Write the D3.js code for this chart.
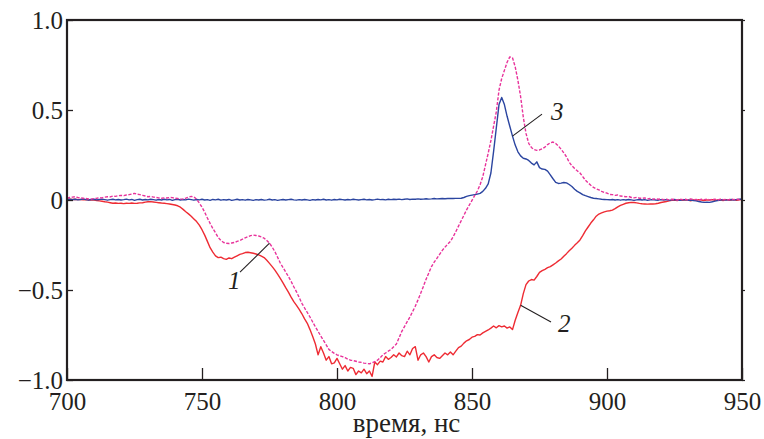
<!DOCTYPE html>
<html>
<head>
<meta charset="utf-8">
<script src="https://cdn.jsdelivr.net/npm/d3@7"></script>
<style>
  html, body { margin: 0; padding: 0; background: #fff; }
  svg { display: block; }
  text { font-family: "Liberation Serif", "Times New Roman", serif; fill: #231f20; }
</style>
</head>
<body>
<svg id="chart" width="764" height="439"></svg>
<script>
// Time grid, ns (one sample per nanosecond)
const tStart = 700, tEnd = 950;
const times = d3.range(tStart, tEnd + 1);

// Curve 1 (dashed)
const curve1 = [
  0.010, 0.014, 0.016, 0.018, 0.014, 0.012, 0.010, 0.008, 0.006, 0.005,
  0.008, 0.010, 0.013, 0.012, 0.016, 0.018, 0.017, 0.022, 0.020, 0.024,
  0.026, 0.024, 0.028, 0.030, 0.033, 0.037, 0.032, 0.030, 0.026, 0.022,
  0.018, 0.020, 0.016, 0.014, 0.012, 0.010, 0.012, 0.011, 0.014, 0.013,
  0.010, 0.008, 0.006, 0.005, 0.010, 0.016, 0.020, 0.018, 0.004, -0.017,
  -0.040, -0.068, -0.100, -0.130, -0.158, -0.182, -0.208, -0.225, -0.236, -0.240,
  -0.242, -0.239, -0.236, -0.230, -0.225, -0.218, -0.210, -0.204, -0.198, -0.195,
  -0.197, -0.200, -0.205, -0.212, -0.225, -0.240, -0.262, -0.287, -0.318, -0.350,
  -0.375, -0.400, -0.425, -0.452, -0.482, -0.510, -0.542, -0.574, -0.600, -0.625,
  -0.650, -0.678, -0.705, -0.730, -0.756, -0.780, -0.805, -0.830, -0.842, -0.852,
  -0.860, -0.866, -0.870, -0.876, -0.884, -0.890, -0.892, -0.896, -0.900, -0.902,
  -0.906, -0.908, -0.910, -0.905, -0.898, -0.890, -0.876, -0.860, -0.850, -0.840,
  -0.830, -0.815, -0.800, -0.765, -0.730, -0.703, -0.676, -0.650, -0.620, -0.590,
  -0.555, -0.518, -0.480, -0.440, -0.405, -0.370, -0.345, -0.324, -0.302, -0.280,
  -0.262, -0.245, -0.230, -0.205, -0.176, -0.145, -0.115, -0.085, -0.055, -0.028,
  -0.002, 0.025, 0.050, 0.085, 0.130, 0.195, 0.260, 0.330, 0.410, 0.490,
  0.610, 0.675, 0.720, 0.765, 0.795, 0.790, 0.740, 0.665, 0.575, 0.460,
  0.370, 0.315, 0.292, 0.280, 0.276, 0.278, 0.284, 0.294, 0.308, 0.318,
  0.322, 0.314, 0.300, 0.282, 0.262, 0.240, 0.210, 0.190, 0.175, 0.162,
  0.150, 0.130, 0.110, 0.095, 0.082, 0.070, 0.062, 0.056, 0.048, 0.042,
  0.038, 0.031, 0.030, 0.026, 0.028, 0.022, 0.020, 0.018, 0.020, 0.014,
  0.012, 0.015, 0.010, 0.009, 0.012, 0.006, 0.008, 0.004, 0.007, 0.004,
  0.006, 0.002, 0.005, 0.001, 0.004, 0.003, 0.000, 0.005, 0.002, 0.004,
  0.001, 0.006, 0.002, 0.003, 0.000, 0.004, 0.002, 0.005, 0.001, 0.003,
  0.004, 0.000, 0.005, 0.002, 0.003, 0.001, 0.006, 0.002, 0.004, 0.003,
  0.008
];

// Curve 2 (solid red)
const curve2 = [
  0.005, 0.004, 0.003, 0.004, 0.002, 0.003, 0.001, 0.002, 0.000, 0.001,
  -0.001, -0.003, -0.005, -0.007, -0.010, -0.012, -0.015, -0.018, -0.017, -0.019,
  -0.018, -0.020, -0.018, -0.019, -0.017, -0.019, -0.018, -0.016, -0.015, -0.012,
  -0.010, -0.009, -0.011, -0.013, -0.015, -0.017, -0.018, -0.020, -0.022, -0.025,
  -0.028, -0.032, -0.040, -0.052, -0.065, -0.077, -0.090, -0.105, -0.120, -0.140,
  -0.165, -0.195, -0.230, -0.265, -0.290, -0.310, -0.320, -0.318, -0.326, -0.330,
  -0.322, -0.326, -0.318, -0.310, -0.302, -0.298, -0.292, -0.290, -0.293, -0.296,
  -0.300, -0.305, -0.312, -0.320, -0.335, -0.352, -0.370, -0.390, -0.412, -0.435,
  -0.460, -0.487, -0.512, -0.540, -0.565, -0.585, -0.608, -0.632, -0.660, -0.685,
  -0.720, -0.758, -0.800, -0.860, -0.815, -0.850, -0.890, -0.870, -0.910, -0.905,
  -0.880, -0.910, -0.940, -0.920, -0.950, -0.930, -0.935, -0.970, -0.950, -0.960,
  -0.940, -0.965, -0.950, -0.980, -0.900, -0.915, -0.895, -0.900, -0.870, -0.885,
  -0.875, -0.860, -0.872, -0.850, -0.865, -0.870, -0.840, -0.860, -0.825, -0.815,
  -0.890, -0.860, -0.850, -0.870, -0.900, -0.870, -0.860, -0.875, -0.880, -0.865,
  -0.850, -0.860, -0.845, -0.860, -0.840, -0.820, -0.812, -0.795, -0.782, -0.775,
  -0.762, -0.758, -0.748, -0.750, -0.738, -0.730, -0.722, -0.712, -0.700, -0.710,
  -0.698, -0.705, -0.700, -0.712, -0.705, -0.720, -0.668, -0.625, -0.585, -0.520,
  -0.470, -0.450, -0.442, -0.445, -0.425, -0.402, -0.392, -0.385, -0.376, -0.370,
  -0.360, -0.350, -0.338, -0.328, -0.312, -0.298, -0.282, -0.268, -0.252, -0.238,
  -0.222, -0.198, -0.172, -0.150, -0.128, -0.110, -0.090, -0.078, -0.072, -0.066,
  -0.062, -0.060, -0.056, -0.048, -0.038, -0.030, -0.024, -0.018, -0.015, -0.013,
  -0.014, -0.016, -0.019, -0.021, -0.022, -0.023, -0.022, -0.022, -0.021, -0.018,
  -0.014, -0.011, -0.008, -0.005, -0.002, 0.000, -0.003, 0.002, -0.002, 0.001,
  0.000, -0.004, 0.001, -0.002, 0.002, 0.000, -0.003, 0.001, -0.001, 0.002,
  -0.002, 0.000, 0.001, -0.003, 0.002, -0.001, 0.000, 0.002, -0.002, 0.001,
  0.003
];

// Curve 3 (solid blue)
const curve3 = [
  0.003, 0.005, 0.002, 0.004, 0.001, 0.003, 0.006, 0.002, 0.000, 0.003,
  0.004, 0.001, 0.003, 0.005, 0.002, -0.001, 0.002, 0.004, 0.001, 0.003,
  0.000, 0.002, 0.005, 0.001, 0.003, -0.002, 0.002, 0.004, 0.000, 0.003,
  0.001, 0.004, 0.002, -0.001, 0.003, 0.000, 0.004, 0.001, 0.003, -0.002,
  0.002, 0.004, 0.000, 0.003, 0.001, 0.005, 0.002, -0.001, 0.003, 0.001,
  0.004, 0.000, 0.002, -0.002, 0.003, 0.001, 0.004, -0.001, 0.002, 0.000,
  0.003, -0.002, 0.001, 0.004, 0.000, 0.002, -0.001, 0.003, 0.001, -0.002,
  0.002, 0.000, 0.003, -0.001, 0.001, 0.004, 0.000, 0.002, -0.002, 0.001,
  0.003, 0.000, 0.002, 0.004, 0.001, -0.001, 0.002, 0.000, 0.003, 0.001,
  -0.002, 0.002, 0.000, 0.003, 0.001, 0.004, 0.000, 0.002, -0.001, 0.003,
  0.001, 0.004, 0.002, 0.000, 0.003, 0.001, 0.004, 0.002, 0.000, 0.002,
  0.004, 0.001, 0.003, 0.000, 0.002, 0.005, 0.002, 0.003, 0.001, 0.004,
  0.002, 0.004, 0.003, 0.005, 0.002, 0.004, 0.006, 0.003, 0.005, 0.004,
  0.006, 0.004, 0.005, 0.007, 0.005, 0.006, 0.008, 0.006, 0.007, 0.008,
  0.007, 0.008, 0.009, 0.008, 0.009, 0.009,
  0.010, 0.014, 0.020, 0.024, 0.027, 0.030, 0.033, 0.037, 0.048, 0.065,
  0.090, 0.150, 0.270, 0.400, 0.530, 0.570, 0.530, 0.465, 0.410, 0.355,
  0.305, 0.268, 0.245, 0.232, 0.228, 0.220, 0.205, 0.195, 0.212, 0.180,
  0.172, 0.170, 0.160, 0.140, 0.118, 0.098, 0.092, 0.094, 0.097, 0.095,
  0.086, 0.075, 0.060, 0.048, 0.040, 0.030, 0.024, 0.019, 0.014, 0.010,
  0.008, 0.006, 0.004, 0.003, 0.002,
  0.001, 0.003, 0.000, 0.002, -0.001, 0.002, 0.000, 0.003, 0.001, -0.002,
  0.001, 0.003, 0.000, 0.002, -0.002, 0.001, 0.003, 0.000, -0.001, 0.002,
  0.000, 0.002, -0.002, 0.001, 0.003, 0.000, -0.002, 0.001, 0.002, -0.001,
  0.000, -0.003, -0.005, -0.008, -0.011, -0.013, -0.012, -0.013, -0.010, -0.006,
  -0.003, 0.000, 0.002, -0.001, 0.001, 0.003, 0.000, 0.002, 0.004, 0.006
];

// Axis ticks and labels
const xTicks = [700, 750, 800, 850, 900, 950];
const yTicks = [1.0, 0.5, 0, -0.5, -1.0];
const yTickLabels = ["1.0", "0.5", "0", "\u22120.5", "\u22121.0"];
const xTitle = "время, нс";

// Curve numbers with the time where each leader touches its curve
const curveNames = ["1", "2", "3"];
const leaderTimes = [775, 868, 865];

// ---- drawing ----
const svg = d3.select("#chart");
const margin = { left: 67, right: 22, top: 20, bottom: 59 };
const W = 764, H = 439;

const x = d3.scaleLinear().domain([tStart, tEnd]).range([margin.left, W - margin.right]);
const y = d3.scaleLinear().domain([-1, 1]).range([H - margin.bottom, margin.top]);

const ink = "#231f20";
const serif = "'Liberation Serif', 'Times New Roman', serif";

const series = [
  { name: curveNames[0], values: curve1, color: "#e8339b", dash: "3.2,1.6", at: leaderTimes[0] },
  { name: curveNames[1], values: curve2, color: "#ee2b33", dash: null, at: leaderTimes[1] },
  { name: curveNames[2], values: curve3, color: "#2b45a0", dash: null, at: leaderTimes[2] }
];

const line = d3.line()
  .x((d, i) => x(times[i]))
  .y(d => y(d));

svg.append("clipPath").attr("id", "plotClip")
  .append("rect")
  .attr("x", margin.left).attr("y", margin.top)
  .attr("width", W - margin.left - margin.right)
  .attr("height", H - margin.top - margin.bottom);

const plot = svg.append("g").attr("clip-path", "url(#plotClip)");

// red first, then blue, dashed curve on top
[series[1], series[2], series[0]].forEach(s => {
  plot.append("path")
    .datum(s.values)
    .attr("fill", "none")
    .attr("stroke", s.color)
    .attr("stroke-width", 1.4)
    .attr("stroke-linejoin", "round")
    .attr("stroke-dasharray", s.dash)
    .attr("d", line);
});

// bottom axis: inward ticks
const xAxis = svg.append("g")
  .attr("transform", `translate(0,${y(-1)})`)
  .attr("font-family", serif)
  .call(d3.axisBottom(x).tickValues(xTicks).tickSize(-12).tickPadding(12).tickFormat(d3.format("d")));
xAxis.attr("font-family", serif);
xAxis.select(".domain").remove();
xAxis.selectAll(".tick line").attr("stroke", ink).attr("stroke-width", 1.3);
xAxis.selectAll(".tick text").attr("font-size", 25).attr("fill", ink);

// left axis: inward ticks
const yAxis = svg.append("g")
  .attr("transform", `translate(${x(tStart)},0)`)
  .call(d3.axisLeft(y).tickValues(yTicks).tickSize(-6).tickPadding(4)
    .tickFormat((d, i) => yTickLabels[i]));
yAxis.attr("font-family", serif);
yAxis.select(".domain").remove();
yAxis.selectAll(".tick line").attr("stroke", ink).attr("stroke-width", 1.3);
yAxis.selectAll(".tick text").attr("font-size", 25).attr("fill", ink);

// right edge: short outer ticks
const yAxisR = svg.append("g")
  .attr("transform", `translate(${x(tEnd)},0)`)
  .call(d3.axisRight(y).tickValues(yTicks).tickSize(3).tickFormat(""));
yAxisR.select(".domain").remove();
yAxisR.selectAll(".tick line").attr("stroke", ink).attr("stroke-width", 1.2);

// frame
svg.append("rect")
  .attr("x", x(tStart)).attr("y", y(1))
  .attr("width", x(tEnd) - x(tStart))
  .attr("height", y(-1) - y(1))
  .attr("fill", "none")
  .attr("stroke", ink)
  .attr("stroke-width", 2.2);

// axis title
svg.append("text")
  .attr("x", (x(tStart) + x(tEnd)) / 2 + 2)
  .attr("y", 432)
  .attr("text-anchor", "middle")
  .attr("font-size", 27)
  .text(xTitle);

// curve numbers with leader lines
const leaderGeom = {
  "1": { dx: -29.5, dy: 29, tx: -41.5, ty: 46 },
  "2": { dx: 30.4, dy: 16.7, tx: 37.4, ty: 26.7 },
  "3": { dx: 29.5, dy: -22, tx: 38.5, ty: -16 }
};
series.forEach(s => {
  const i = times.indexOf(s.at);
  const ax = x(times[i]), ay = y(s.values[i]);
  const g = leaderGeom[s.name];
  svg.append("line")
    .attr("x1", ax).attr("y1", ay)
    .attr("x2", ax + g.dx).attr("y2", ay + g.dy)
    .attr("stroke", ink).attr("stroke-width", 1.1);
  svg.append("text")
    .attr("x", ax + g.tx).attr("y", ay + g.ty)
    .attr("font-size", 25)
    .attr("font-style", "italic")
    .text(s.name);
});
</script>
</body>
</html>
